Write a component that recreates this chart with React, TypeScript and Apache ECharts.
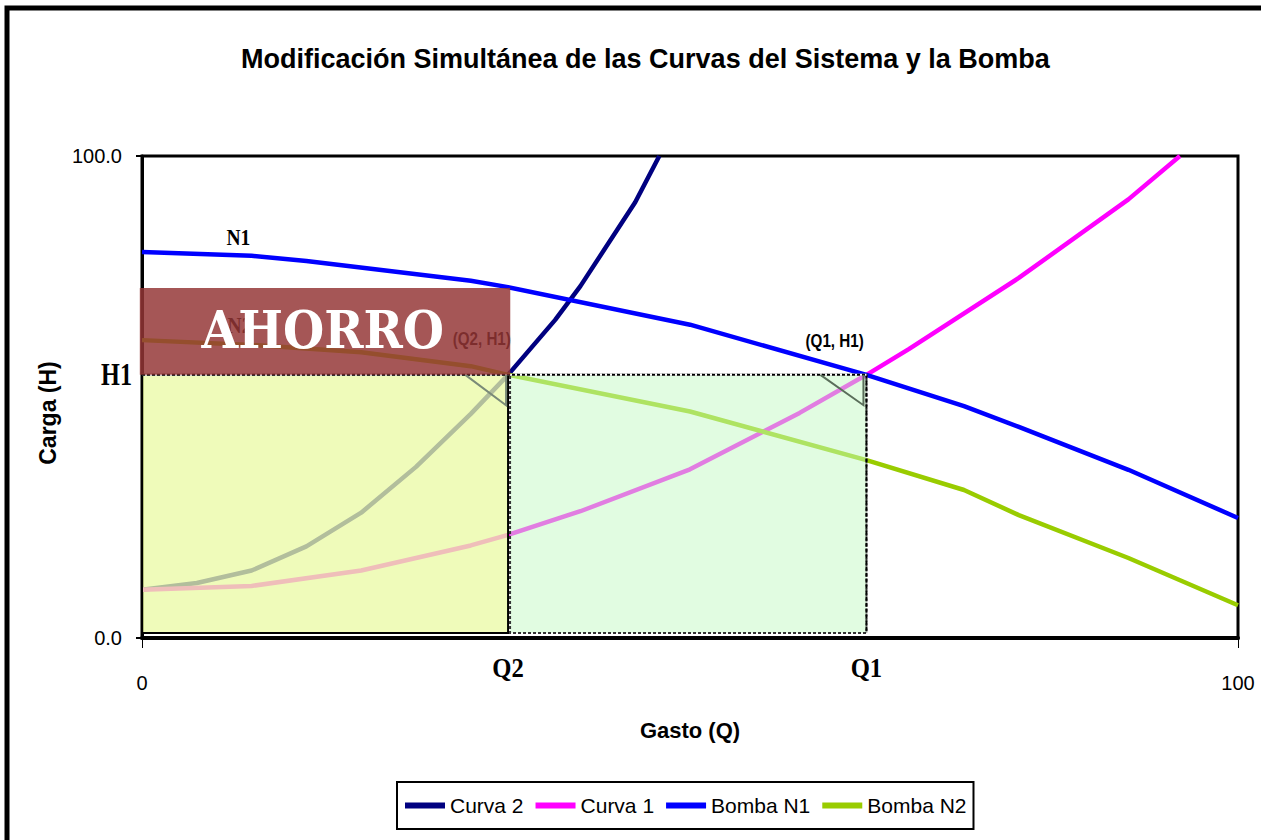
import React, { useEffect, useRef } from "react";
import * as echarts from "echarts";

// Key operating points
const Q2 = 33.4;
const Q1 = 66.1;
const H1 = 54.6;
const H_N1_AT_Q2 = 72.6;

// Curva 2 (sistema modificado)
const qCurva2 = [0, 5, 10, 15, 20, 25, 30, 33.4, 37.7, 40, 45, 47.2];
const hCurva2 = [10, 11.4, 14, 19, 26, 35.5, 46.5, 54.6, 66, 73, 90.4, 100];

// Curva 1 (sistema original)
const qCurva1 = [0, 10, 20, 30, 33.4, 40, 50, 60, 66.1, 70, 80, 90, 94.7];
const hCurva1 = [10, 10.8, 14, 19.2, 21.4, 26.3, 35, 46.7, 54.6, 60, 74.7, 91, 100];

// Bomba N1
const qN1 = [0, 10, 15, 30, 33.4, 50, 66.1, 75, 80, 90, 100];
const hN1 = [80.1, 79.3, 78.2, 74.1, 72.8, 65, 54.6, 48.1, 43.8, 34.9, 24.9];

// Bomba N2
const qN2 = [0, 10, 20, 30, 33.4, 50, 66.1, 75, 80, 90, 100];
const hN2 = [61.8, 60.8, 59.3, 56.4, 54.6, 47, 36.9, 30.7, 25.5, 16.6, 6.8];

const seriesNames = ["Curva 2", "Curva 1", "Bomba N1", "Bomba N2"];
const seriesColors = ["#000080", "#FF00FF", "#0000FF", "#99CC00"];

const zip = (q: number[], h: number[]) => q.map((v, i) => [v, h[i]]);

const SANS = "'Liberation Sans', Arial, sans-serif";
const SERIF = "'Liberation Serif', 'Times New Roman', serif";

export default function App() {
  const ref = useRef<HTMLDivElement>(null);
  useEffect(() => {
    if (!ref.current) return;
    const chart = echarts.init(ref.current, null, { renderer: "svg" });

    const renderOverlay = (params: any, api: any) => {
      const p = (x: number, y: number) => api.coord([x, y]);
      const a0 = p(0, H1);
      const aQ2 = p(Q2, 0);
      const bQ1 = p(Q1, 0);
      const h1Q2 = p(Q2, H1);
      const h1Q1 = p(Q1, H1);
      const ahTL = p(-0.2, H_N1_AT_Q2);
      const ahBR = p(Q2 + 0.2, H1);
      const calloutY = p(0, 48.3)[1];
      const txt = (x: number, y: number, text: string, font: string, size: number, color: string, sx: number, align = "center") => {
        const c = p(x, y);
        return {
          type: "text",
          x: c[0],
          y: c[1],
          scaleX: sx,
          style: {
            text,
            fontFamily: font,
            fontSize: size,
            fontWeight: "bold",
            fill: color,
            align,
            verticalAlign: "middle",
          },
        };
      };
      const pixText = (x: number, y: number, text: string, font: string, size: number, color: string, sx: number, align = "center") => ({
        type: "text",
        x,
        y,
        scaleX: sx,
        style: { text, fontFamily: font, fontSize: size, fontWeight: "bold", fill: color, align, verticalAlign: "middle" },
      });
      const children: any[] = [
        // yellow area 0..Q2
        {
          type: "rect",
          shape: { x: a0[0], y: a0[1], width: aQ2[0] - a0[0], height: aQ2[1] - a0[1] - 5 },
          style: { fill: "rgba(234,250,164,0.76)", stroke: "#000", lineWidth: 2 },
        },
        // green area Q2..Q1
        {
          type: "rect",
          shape: { x: h1Q2[0] + 2, y: h1Q2[1], width: bQ1[0] - h1Q2[0] - 2, height: bQ1[1] - h1Q2[1] - 5 },
          style: { fill: "rgba(196,249,196,0.5)", stroke: "#333", lineWidth: 2, lineDash: [3, 2] },
        },
        // Q1 vertical edge
        {
          type: "line",
          shape: { x1: bQ1[0], y1: h1Q1[1], x2: bQ1[0], y2: bQ1[1] - 5 },
          style: { stroke: "#000", lineWidth: 2, lineDash: [4, 2] },
        },
        // H1 dotted line
        {
          type: "line",
          shape: { x1: a0[0], y1: a0[1], x2: h1Q1[0], y2: h1Q1[1] },
          style: { stroke: "#fff", lineWidth: 2 },
        },
        {
          type: "line",
          shape: { x1: a0[0], y1: a0[1], x2: h1Q1[0], y2: h1Q1[1] },
          style: { stroke: "#000", lineWidth: 2, lineDash: [3, 2] },
        },
        // callouts
        {
          type: "polyline",
          shape: { points: [p(29.5, H1), [h1Q2[0] - 2, calloutY], [h1Q2[0] - 2, h1Q2[1]]] },
          style: { stroke: "#7a8a78", lineWidth: 2, fill: "none" },
        },
        {
          type: "polyline",
          shape: { points: [p(61.9, H1), [h1Q1[0] - 3, calloutY], [h1Q1[0] - 3, h1Q1[1]]] },
          style: { stroke: "#5a6e5a", lineWidth: 2, fill: "none" },
        },
        txt(8.8, 83, "N1", SERIF, 23, "#000", 0.85),
        txt(8.9, 64.9, "N2", SERIF, 23, "#000", 0.85),
        txt(31.0, 62.2, "(Q2, H1)", SANS, 19, "#000", 0.8),
        txt(63.2, 61.8, "(Q1, H1)", SANS, 19, "#000", 0.8),
        // AHORRO box
        {
          type: "rect",
          shape: { x: ahTL[0], y: ahTL[1], width: ahBR[0] - ahTL[0], height: ahBR[1] - ahTL[1] },
          style: { fill: "rgba(148,54,54,0.84)" },
        },
        txt(16.5, 63.9, "AHORRO", "'DejaVu Serif', serif", 52, "#fff", 0.91),
        // special axis labels
        pixText(a0[0] - 10, a0[1], "H1", SERIF, 31, "#000", 0.78, "right"),
        pixText(h1Q2[0], aQ2[1] + 30, "Q2", SERIF, 28, "#000", 0.88),
        pixText(h1Q1[0], aQ2[1] + 30, "Q1", SERIF, 28, "#000", 0.88),
      ];
      return { type: "group", children };
    };

    chart.setOption({
      animation: false,
      backgroundColor: "#fff",
      title: {
        text: "Modificación Simultánea de las Curvas del Sistema y la Bomba",
        left: 236,
        top: 40,
        textStyle: { fontFamily: SANS, fontWeight: "bold", fontSize: 27, color: "#000" },
      },
      graphic: [
        {
          type: "rect",
          shape: { x: 7, y: 8, width: 1400, height: 1000 },
          style: { fill: "none", stroke: "#000", lineWidth: 5 },
        },
      ],
      legend: {
        data: seriesNames,
        left: 397,
        top: 782,
        orient: "horizontal",
        icon: "rect",
        itemWidth: 40,
        itemHeight: 6,
        itemGap: 12,
        padding: [13, 7, 13, 8],
        borderColor: "#000",
        borderWidth: 2,
        textStyle: { fontFamily: SANS, fontSize: 21, color: "#000" },
      },
      grid: {
        left: 142,
        right: 23,
        top: 156,
        bottom: 202,
        show: true,
        borderColor: "#000",
        borderWidth: 3,
        backgroundColor: "transparent",
      },
      xAxis: {
        type: "value",
        min: 0,
        max: 100,
        interval: 100,
        name: "Gasto (Q)",
        nameLocation: "middle",
        nameGap: 81,
        nameTextStyle: { fontFamily: SANS, fontWeight: "bold", fontSize: 22, color: "#000" },
        axisLine: { lineStyle: { color: "#000", width: 4 } },
        axisTick: { length: 10, lineStyle: { color: "#000", width: 1 } },
        axisLabel: { margin: 35, fontFamily: SANS, fontSize: 20, color: "#000" },
        splitLine: { show: false },
      },
      yAxis: {
        type: "value",
        min: 0,
        max: 100,
        interval: 100,
        name: "Carga (H)",
        nameLocation: "middle",
        nameGap: 83,
        nameTextStyle: { fontFamily: SANS, fontWeight: "bold", fontSize: 23, color: "#000", padding: [0, 32, 0, 0] },
        axisLine: { lineStyle: { color: "#000", width: 3 } },
        axisTick: { length: 6, lineStyle: { color: "#000", width: 2 } },
        axisLabel: {
          margin: 20,
          fontFamily: SANS,
          fontSize: 20,
          color: "#000",
          formatter: (v: number) => v.toFixed(1),
        },
        splitLine: { show: false },
      },
      series: [
        ...[
          zip(qCurva2, hCurva2),
          zip(qCurva1, hCurva1),
          zip(qN1, hN1),
          zip(qN2, hN2),
        ].map((data, i) => ({
          name: seriesNames[i],
          type: "line",
          data,
          showSymbol: false,
          symbol: "none",
          color: seriesColors[i],
          lineStyle: { color: seriesColors[i], width: 4.5 },
          clip: true,
          z: 2,
        })),
        {
          type: "custom",
          name: "overlay",
          data: [[0, 0]],
          renderItem: renderOverlay,
          clip: false,
          silent: true,
          z: 5,
        },
      ],
    });
    return () => chart.dispose();
  }, []);
  return (
    <div
      ref={ref}
      style={{ position: "fixed", left: 0, top: 0, width: 1261, height: 840, background: "#fff" }}
    />
  );
}
